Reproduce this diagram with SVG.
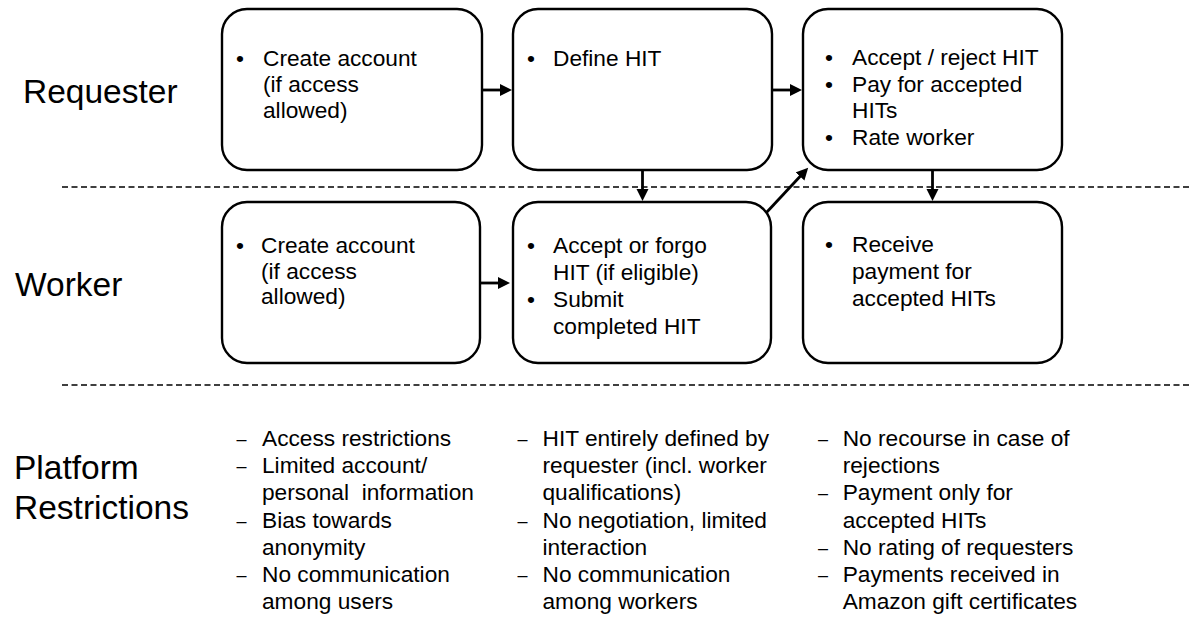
<svg xmlns="http://www.w3.org/2000/svg" width="1189" height="618" viewBox="0 0 1189 618">
<style>
.box{fill:#fff;stroke:#000;stroke-width:2.4}
.t{font-family:"Liberation Sans",Arial,sans-serif;font-size:22.7px;fill:#000}
.b{font-family:"Liberation Sans",Arial,sans-serif;font-size:22.7px;fill:#000;text-anchor:middle}
.d{font-family:"Liberation Sans",Arial,sans-serif;font-size:18px;fill:#000;text-anchor:middle}
.lbl{font-family:"Liberation Sans",Arial,sans-serif;font-size:33.5px;fill:#000}
.sep{stroke:#000;stroke-width:1.3;stroke-dasharray:6 3.5;fill:none}
.arr{stroke:#000;stroke-width:2.8;fill:none;marker-end:url(#ah)}
</style>
<defs>
<marker id="ah" markerUnits="userSpaceOnUse" markerWidth="13" markerHeight="13" refX="1" refY="6" orient="auto">
<path d="M0,0 L12,6 L0,12 z" fill="#000"/>
</marker>
</defs>
<rect width="1189" height="618" fill="#fff"/>
<g id="separators">
<line class="sep" x1="62" y1="187" x2="1189" y2="187"/>
<line class="sep" x1="62" y1="385" x2="1189" y2="385"/>
</g>
<g id="row-labels">
<text class="lbl" x="23" y="103">Requester</text>
<text class="lbl" x="15" y="296">Worker</text>
<text class="lbl" x="14" y="479">Platform</text>
<text class="lbl" x="14" y="519">Restrictions</text>
</g>
<g id="req-create">
<rect class="box" x="222" y="9" width="260" height="161" rx="25"/>
<text class="b" x="240" y="66">•</text>
<text class="t" x="263" y="66">Create account</text>
<text class="t" x="263" y="92">(if access</text>
<text class="t" x="263" y="117.5">allowed)</text>
</g>
<g id="req-define">
<rect class="box" x="513" y="9" width="259" height="161" rx="25"/>
<text class="b" x="531" y="66">•</text>
<text class="t" x="553" y="66">Define HIT</text>
</g>
<g id="req-accept">
<rect class="box" x="803" y="9" width="259" height="161" rx="25"/>
<text class="b" x="829" y="64.5">•</text>
<text class="t" x="852" y="64.5">Accept / reject HIT</text>
<text class="b" x="829" y="91.5">•</text>
<text class="t" x="852" y="91.5">Pay for accepted</text>
<text class="t" x="852" y="118">HITs</text>
<text class="b" x="829" y="145">•</text>
<text class="t" x="852" y="145">Rate worker</text>
</g>
<g id="wrk-create">
<rect class="box" x="222" y="202" width="258" height="161" rx="25"/>
<text class="b" x="240" y="252.5">•</text>
<text class="t" x="261" y="252.5">Create account</text>
<text class="t" x="261" y="278.5">(if access</text>
<text class="t" x="261" y="304">allowed)</text>
</g>
<g id="wrk-accept">
<rect class="box" x="513" y="202" width="258" height="161" rx="25"/>
<text class="b" x="531" y="253">•</text>
<text class="t" x="553" y="253">Accept or forgo</text>
<text class="t" x="553" y="279.5">HIT (if eligible)</text>
<text class="b" x="531" y="307">•</text>
<text class="t" x="553" y="307">Submit</text>
<text class="t" x="553" y="333.5">completed HIT</text>
</g>
<g id="wrk-receive">
<rect class="box" x="803" y="202" width="259" height="161" rx="25"/>
<text class="b" x="829" y="252">•</text>
<text class="t" x="852" y="252">Receive</text>
<text class="t" x="852" y="279">payment for</text>
<text class="t" x="852" y="306">accepted HITs</text>
</g>
<g id="connectors">
<line class="arr" x1="483" y1="90" x2="501" y2="90"/>
<line class="arr" x1="773" y1="90" x2="791" y2="90"/>
<line class="arr" x1="481" y1="283" x2="499" y2="283"/>
<line class="arr" x1="642.5" y1="171" x2="642.5" y2="190"/>
<line class="arr" x1="932.5" y1="171" x2="932.5" y2="190"/>
<line class="arr" x1="766" y1="213" x2="800.7" y2="175.7"/>
</g>
<g id="restrictions-1">
<text class="d" x="241.5" y="445">–</text>
<text class="t" x="262" y="446">Access restrictions</text>
<text class="d" x="241.5" y="472.2">–</text>
<text class="t" x="262" y="473.2">Limited account/</text>
<text class="t" x="262" y="500.4" xml:space="preserve">personal  information</text>
<text class="d" x="241.5" y="526.6">–</text>
<text class="t" x="262" y="527.6">Bias towards</text>
<text class="t" x="262" y="554.8">anonymity</text>
<text class="d" x="241.5" y="581">–</text>
<text class="t" x="262" y="582">No communication</text>
<text class="t" x="262" y="609.2">among users</text>
</g>
<g id="restrictions-2">
<text class="d" x="522.5" y="445">–</text>
<text class="t" x="542.5" y="446">HIT entirely defined by</text>
<text class="t" x="542.5" y="473.2">requester (incl. worker</text>
<text class="t" x="542.5" y="500.4">qualifications)</text>
<text class="d" x="522.5" y="526.6">–</text>
<text class="t" x="542.5" y="527.6">No negotiation, limited</text>
<text class="t" x="542.5" y="554.8">interaction</text>
<text class="d" x="522.5" y="581">–</text>
<text class="t" x="542.5" y="582">No communication</text>
<text class="t" x="542.5" y="609.2">among workers</text>
</g>
<g id="restrictions-3">
<text class="d" x="823" y="445">–</text>
<text class="t" x="842.7" y="446">No recourse in case of</text>
<text class="t" x="842.7" y="473.2">rejections</text>
<text class="d" x="823" y="499.4">–</text>
<text class="t" x="842.7" y="500.4">Payment only for</text>
<text class="t" x="842.7" y="527.6">accepted HITs</text>
<text class="d" x="823" y="553.8">–</text>
<text class="t" x="842.7" y="554.8">No rating of requesters</text>
<text class="d" x="823" y="581">–</text>
<text class="t" x="842.7" y="582">Payments received in</text>
<text class="t" x="842.7" y="609.2">Amazon gift certificates</text>
</g>
</svg>
